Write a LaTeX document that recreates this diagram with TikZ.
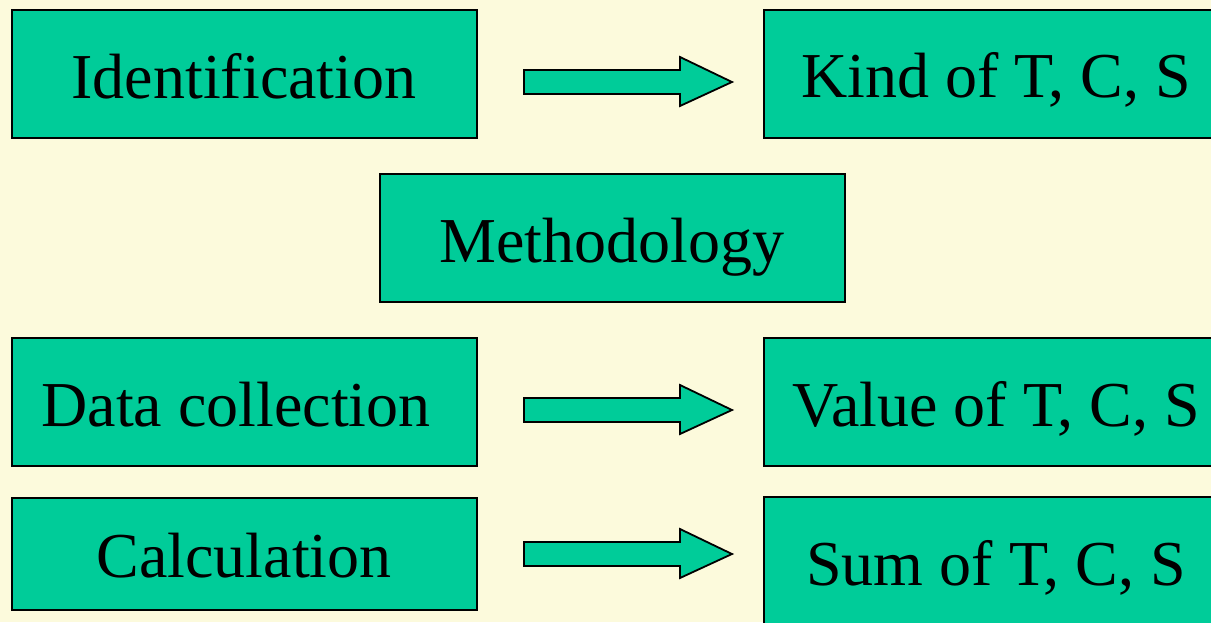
\documentclass[tikz,border=0pt]{standalone}
\usepackage{fontspec}
\setmainfont{Liberation Serif}
\definecolor{bgc}{RGB}{252,250,220}
\definecolor{boxc}{RGB}{0,204,153}
\tikzset{
  box/.style={draw=black, line width=1.3pt, fill=boxc, minimum width=465pt, minimum height=128pt, inner sep=0pt, outer sep=0pt, anchor=north west},
  lbl/.style={anchor=base, inner sep=0pt, font=\fontsize{64}{68}\selectfont},
  fatarrow/.style={draw=black, line width=1.8pt, fill=boxc, line join=miter}
}
\begin{document}
\begin{tikzpicture}[x=1pt,y=-1pt]
\useasboundingbox (0,0) rectangle (1211,622);
\fill[bgc] (0,0) rectangle (1211,622);
\clip (0,0) rectangle (1211,622);
% boxes
\node[box] (ident) at (12,10) {};
\node[box] (kind) at (764,10) {};
\node[box] (meth) at (380,174) {};
\node[box] (data) at (12,338) {};
\node[box] (value) at (764,338) {};
\node[box, minimum height=112pt] (calc) at (12,498) {};
\node[box] (sum) at (764,497) {};
% labels
\node[lbl] (tident) at (244,98) {Identification};
\node[lbl] (tkind) at (996,97) {Kind of T, C, S};
\node[lbl] (tmeth) at (612,262) {Methodology};
\node[lbl] (tdata) at (236,426) {Data collection};
\node[lbl] (tvalue) at (996,426) {Value of T, C, S};
\node[lbl] (tcalc) at (244,577) {Calculation};
\node[lbl] (tsum) at (996,585) {Sum of T, C, S};
% block arrows
\foreach \cy in {82,410,554}{
  \draw[fatarrow] (524,\cy-12) -- (680,\cy-12) -- (680,\cy-25) -- (732,\cy) -- (680,\cy+24) -- (680,\cy+12) -- (524,\cy+12) -- cycle;
}
\end{tikzpicture}
\end{document}
